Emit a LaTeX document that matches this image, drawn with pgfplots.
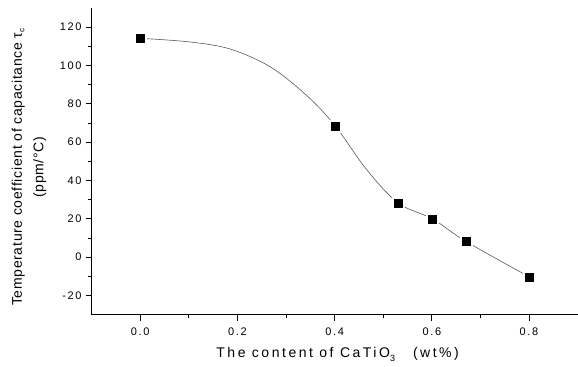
\documentclass[border=0pt]{standalone}
\usepackage{fontspec}
\setmainfont{Liberation Sans}
\newfontfamily\tickfont[LetterSpace=15]{Liberation Sans}
\newfontfamily\lblfont[LetterSpace=18]{Liberation Sans}
\newfontfamily\ylblfont[LetterSpace=5]{Liberation Sans}
\usepackage{pgfplots}
\pgfplotsset{compat=1.18}
\usetikzlibrary{calc}
\begin{document}
\begin{tikzpicture}
\begin{axis}[
  name=ax,
  scale only axis,
  width=486pt, height=307pt,
  xmin=-0.1, xmax=0.9, ymin=-30, ymax=130,
  axis x line*=bottom, axis y line*=left,
  axis line style={line width=0.8pt, -},
  tick align=outside,
  major tick length=6pt, minor tick length=3.5pt,
  every tick/.style={black, line width=0.8pt},
  xtick={0,0.2,0.4,0.6,0.8},
  xticklabels={0.0,0.2,0.4,0.6,0.8},
  minor x tick num=1,
  ytick={-20,0,20,40,60,80,100,120},
  yticklabels={-20,0,20,40,60,80,100,120},
  minor y tick num=1,
  ticklabel style={font=\tickfont\fontsize{11}{13}\selectfont},
  xticklabel style={anchor=base, inner sep=0pt, yshift=-15pt},
  yticklabel style={anchor=east, inner sep=0pt, xshift=-4pt},
  xlabel={The content of CaTiO\raisebox{-4pt}{\fontsize{9}{10}\selectfont 3}\hspace{18pt}(wt\%)},
  xlabel style={font=\lblfont\fontsize{14}{16}\selectfont, at={(axis description cs:0.5,0)}, anchor=base, inner sep=0pt, yshift=-43pt, xshift=3pt},
  ylabel={Temperature coefficient of capacitance τ\raisebox{-2.5pt}{\fontsize{8}{9}\selectfont c}\\(ppm/\textdegree C)},
  ylabel style={font=\ylblfont\fontsize{14}{21.4}\selectfont, align=center, at={(axis description cs:0,0.5)}, anchor=south, inner sep=0pt, yshift=45.3pt, xshift=-6pt},
  clip=false,
]
% smooth curve
\addplot[smooth, tension=0.55, line width=0.6pt, color=black!65] coordinates {
  (0,114.1) (0.102,112.2) (0.185,108.5) (0.267,99.3) (0.342,84.4)
  (0.401,68.5) (0.466,45.6) (0.531,28.2) (0.601,20.0)
  (0.671,8.1) (0.801,-10.3)
};
% white halo round the markers
\addplot[only marks, mark=square*, mark size=6pt, color=white] coordinates {
  (0,114.1) (0.401,68.5) (0.531,28.2) (0.601,20.0) (0.671,8.1) (0.801,-10.3)
};
\addplot[only marks, mark=square*, mark size=4pt, color=black] coordinates {
  (0,114.1) (0.401,68.5) (0.531,28.2) (0.601,20.0) (0.671,8.1) (0.801,-10.3)
};
\end{axis}
\path ($(ax.south west)+(-91.7pt,-52pt)$) rectangle ($(ax.north east)+(0pt,7.8pt)$);
\end{tikzpicture}
\end{document}
